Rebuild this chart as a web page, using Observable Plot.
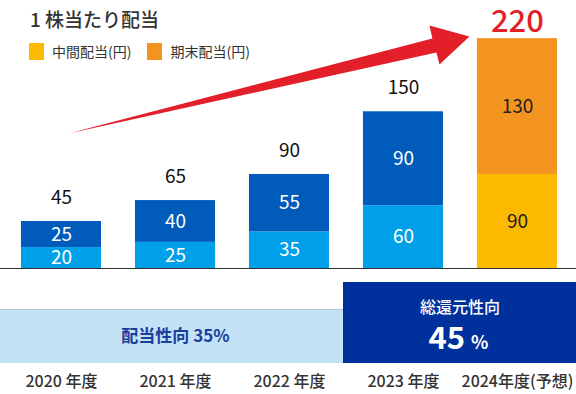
<!DOCTYPE html>
<html>
<head>
<meta charset="utf-8">
<script src="https://cdn.jsdelivr.net/npm/d3@7"></script>
<script src="https://cdn.jsdelivr.net/npm/@observablehq/plot@0.6"></script>
<style>
  html, body { margin: 0; padding: 0; background: #fff; }
  body { font-family: "Noto Sans CJK JP", "Noto Sans", sans-serif; }
  #wrap { position: relative; width: 576px; }
  #wrap svg { display: block; }
  #title { position: absolute; left: 30px; top: 8px; font-size: 19px; line-height: 22px; font-weight: 500; color: #333; }
  #legend { position: absolute; left: 29px; top: 43px; display: flex; align-items: center; font-size: 14px; line-height: 17px; color: #333; }
  .sw { width: 15px; height: 17px; display: inline-block; margin-right: 8px; }
  .item { display: flex; align-items: center; margin-right: 16px; }
</style>
</head>
<body>
<div id="wrap">
  <div id="topChart"></div>
  <div id="bottomChart"></div>
  <div id="title"></div>
  <div id="legend"></div>
</div>
<script>
// ---- data ----
const chartTitle = "1 株当たり配当";
const years = [2020, 2021, 2022, 2023, 2024];
const interim = [20, 25, 35, 60, 90];
const yearEnd = [25, 40, 55, 90, 130];
const totals = [45, 65, 90, 150, 220];
const forecast = [false, false, false, false, true];
const yearLabels = ["2020 年度", "2021 年度", "2022 年度", "2023 年度", "2024年度(予想)"];
const legendLabels = ["中間配当(円)", "期末配当(円)"];
const legendColors = ["#fbb900", "#f39420"];
// decorative growth arrow, in data units (x: year, y: yen)
const arrowX = [2020.061, 2023.254, 2023.228, 2023.579, 2023.316, 2023.289];
const arrowY = [129.2, 220.1, 232.5, 222.0, 195.2, 206.7];
// payout policy bands
const payoutLabel = "配当性向 35%";
const totalReturnTitle = "総還元性向";
const totalReturnValue = "45";
const totalReturnUnit = "%";
const policyBoundary = 2022.474;

const font = "Noto Sans CJK JP";
const rows = years.map((y, i) => ({year: y, interim: interim[i], yearEnd: yearEnd[i], total: totals[i], forecast: forecast[i]}));
const arrowPts = arrowX.map((x, i) => ({x, y: arrowY[i]}));
const half = 0.351;
const xmin = 2019.465, xmax = 2024.518;

const topPlot = Plot.plot({
  width: 576, height: 280,
  marginTop: 0, marginBottom: 12, marginLeft: 0, marginRight: 0,
  x: {domain: [xmin, xmax], axis: null},
  y: {domain: [0, 256.5], axis: null},
  color: {type: "identity"},
  style: {fontFamily: font, overflow: "visible", background: "transparent"},
  marks: [
    Plot.rectY(rows, {x1: d => d.year - half, x2: d => d.year + half, y1: 0, y2: "interim",
      fill: d => d.forecast ? "#fbb900" : "#00a0e9"}),
    Plot.rectY(rows, {x1: d => d.year - half, x2: d => d.year + half, y1: "interim", y2: d => d.interim + d.yearEnd,
      fill: d => d.forecast ? "#f39420" : "#005bba"}),
    Plot.ruleY([0], {stroke: "#333", strokeWidth: 1.2}),
    Plot.line(arrowPts, {x: "x", y: "y", curve: "linear-closed", fill: "#e31f2a", stroke: "none"}),
    Plot.text(rows, {x: "year", y: d => d.interim / 2, text: d => String(d.interim), fontSize: 19,
      fill: d => d.forecast ? "#222" : "#fff"}),
    Plot.text(rows, {x: "year", y: d => d.interim + d.yearEnd / 2, text: d => String(d.yearEnd), fontSize: 19,
      fill: d => d.forecast ? "#222" : "#fff"}),
    Plot.text(rows.filter(d => !d.forecast), {x: "year", y: "total", dy: -24, text: d => String(d.total), fontSize: 19, fill: "#111"}),
    Plot.text(rows.filter(d => d.forecast), {x: "year", y: "total", dy: -17, text: d => String(d.total), fontSize: 31, fontWeight: 500, fill: "#e31f2a"})
  ]
});

const boxMid = (policyBoundary + xmax) / 2;
const bottomPlot = Plot.plot({
  width: 576, height: 114,
  marginTop: 0, marginBottom: 31, marginLeft: 0, marginRight: 0,
  x: {domain: [xmin, xmax]},
  y: {domain: [0, 1], axis: null},
  style: {fontFamily: font, fontSize: "16px", overflow: "visible", background: "transparent"},
  marks: [
    Plot.rect([0], {x1: xmin, x2: policyBoundary, y1: 0, y2: 0.651, fill: "#c4e2f6"}),
    Plot.ruleY([0.651], {x1: xmin, x2: policyBoundary, stroke: "#b4c9dc", strokeWidth: 1}),
    Plot.rect([0], {x1: policyBoundary, x2: xmax, y1: 0, y2: 0.976, fill: "#00309b"}),
    Plot.text([payoutLabel], {x: 2021, y: 0.325, text: d => d, fontSize: 17, fontWeight: 700, fill: "#1b3f9d"}),
    Plot.text([totalReturnTitle], {x: boxMid, y: 0.675, text: d => d, fontSize: 16, fontWeight: 500, fill: "#fff"}),
    Plot.text([totalReturnValue], {x: boxMid, y: 0.169, dx: 5, text: d => d, fontSize: 31, fontWeight: 700, fill: "#fff", textAnchor: "end", lineAnchor: "bottom"}),
    Plot.text([totalReturnUnit], {x: boxMid, y: 0.169, dx: 11, text: d => d, fontSize: 18, fontWeight: 700, fill: "#fff", textAnchor: "start", lineAnchor: "bottom"}),
    Plot.axisX({ticks: years, tickFormat: d => yearLabels[years.indexOf(d)], tickSize: 0, tickPadding: 12, fontSize: 16, fontWeight: 500, fill: "#333"})
  ]
});

document.getElementById("topChart").appendChild(topPlot);
document.getElementById("bottomChart").appendChild(bottomPlot);
document.getElementById("title").textContent = chartTitle;
const leg = document.getElementById("legend");
legendLabels.forEach((lab, i) => {
  const it = document.createElement("div"); it.className = "item";
  const sw = document.createElement("span"); sw.className = "sw"; sw.style.background = legendColors[i];
  const tx = document.createElement("span"); tx.textContent = lab;
  it.appendChild(sw); it.appendChild(tx); leg.appendChild(it);
});
</script>
</body>
</html>
